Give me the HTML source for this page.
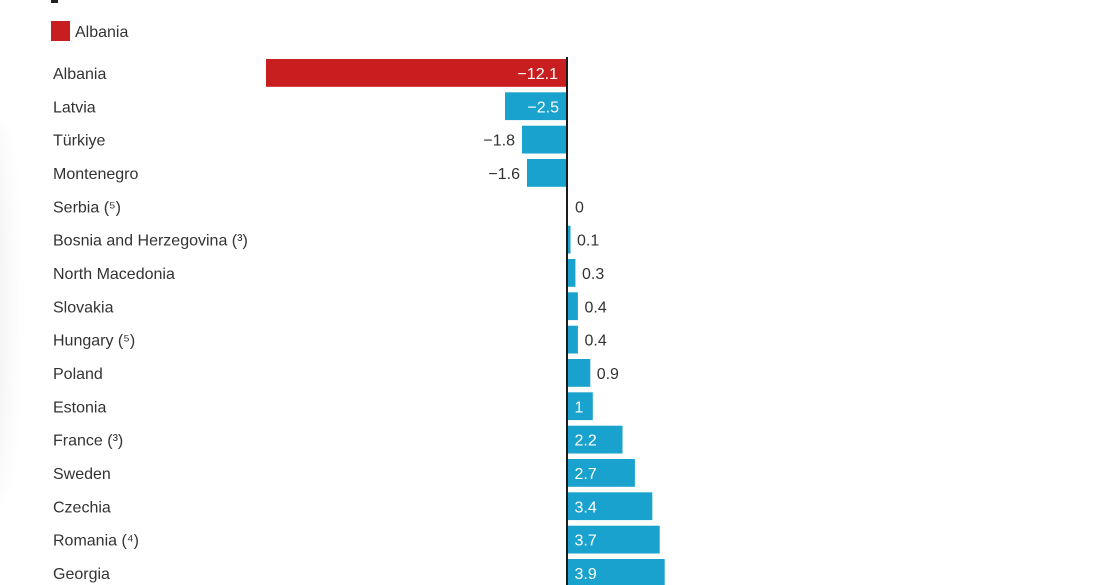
<!DOCTYPE html>
<html>
<head>
<meta charset="utf-8">
<style>
html,body{margin:0;padding:0;background:#fff;}
body{width:1118px;height:585px;overflow:hidden;position:relative;}
svg{position:absolute;left:0;top:0;}
text{font-family:"Liberation Sans",Arial,sans-serif;font-size:16px;}
.lbl{fill:#333;}
.vin{fill:#fff;}
.vout{fill:#333;}
</style>
</head>
<body>
<svg width="1118" height="585" viewBox="0 0 1118 585" xmlns="http://www.w3.org/2000/svg">
  <defs>
    <filter id="blur" x="-50%" y="-50%" width="200%" height="200%"><feGaussianBlur stdDeviation="10"/></filter>
  </defs>
  <ellipse cx="-8" cy="310" rx="18" ry="190" fill="#000" opacity="0.045" filter="url(#blur)"/>
  <rect x="51" y="0" width="7" height="3" fill="#222"/>
  <!-- legend -->
  <rect x="51" y="21" width="19" height="20" fill="#c91e1f"/>
  <text x="75" y="37" class="lbl">Albania</text>

  <text x="53" y="79" class="lbl">Albania</text>
  <rect x="266" y="59" width="300" height="27.8" fill="#c91e1f"/>
  <text x="558" y="79" class="vin" text-anchor="end">−12.1</text>

  <text x="53" y="112.3" class="lbl">Latvia</text>
  <rect x="505" y="92.3" width="61" height="27.8" fill="#19a2ce"/>
  <text x="559" y="112.3" class="vin" text-anchor="end">−2.5</text>

  <text x="53" y="145.7" class="lbl">Türkiye</text>
  <rect x="522" y="125.7" width="44" height="27.8" fill="#19a2ce"/>
  <text x="515" y="145.7" class="vout" text-anchor="end">−1.8</text>

  <text x="53" y="179" class="lbl">Montenegro</text>
  <rect x="527" y="159" width="39" height="27.8" fill="#19a2ce"/>
  <text x="520" y="179" class="vout" text-anchor="end">−1.6</text>

  <text x="53" y="212.3" class="lbl">Serbia (⁵)</text>
  <text x="575" y="212.3" class="vout">0</text>

  <text x="53" y="245.7" class="lbl">Bosnia and Herzegovina (³)</text>
  <rect x="568" y="225.7" width="2.5" height="27.8" fill="#19a2ce"/>
  <text x="577" y="245.7" class="vout">0.1</text>

  <text x="53" y="279" class="lbl">North Macedonia</text>
  <rect x="568" y="259" width="7.4" height="27.8" fill="#19a2ce"/>
  <text x="582" y="279" class="vout">0.3</text>

  <text x="53" y="312.3" class="lbl">Slovakia</text>
  <rect x="568" y="292.3" width="9.9" height="27.8" fill="#19a2ce"/>
  <text x="584.5" y="312.3" class="vout">0.4</text>

  <text x="53" y="345.7" class="lbl">Hungary (⁵)</text>
  <rect x="568" y="325.7" width="9.9" height="27.8" fill="#19a2ce"/>
  <text x="584.5" y="345.7" class="vout">0.4</text>

  <text x="53" y="379" class="lbl">Poland</text>
  <rect x="568" y="359" width="22.3" height="27.8" fill="#19a2ce"/>
  <text x="596.7" y="379" class="vout">0.9</text>

  <text x="53" y="412.3" class="lbl">Estonia</text>
  <rect x="568" y="392.3" width="24.8" height="27.8" fill="#19a2ce"/>
  <text x="574.5" y="412.3" class="vin">1</text>

  <text x="53" y="445.7" class="lbl">France (³)</text>
  <rect x="568" y="425.7" width="54.5" height="27.8" fill="#19a2ce"/>
  <text x="574.5" y="445.7" class="vin">2.2</text>

  <text x="53" y="479" class="lbl">Sweden</text>
  <rect x="568" y="459" width="66.9" height="27.8" fill="#19a2ce"/>
  <text x="574.5" y="479" class="vin">2.7</text>

  <text x="53" y="512.3" class="lbl">Czechia</text>
  <rect x="568" y="492.3" width="84.3" height="27.8" fill="#19a2ce"/>
  <text x="574.5" y="512.3" class="vin">3.4</text>

  <text x="53" y="545.7" class="lbl">Romania (⁴)</text>
  <rect x="568" y="525.7" width="91.7" height="27.8" fill="#19a2ce"/>
  <text x="574.5" y="545.7" class="vin">3.7</text>

  <text x="53" y="579" class="lbl">Georgia</text>
  <rect x="568" y="559" width="96.7" height="27.8" fill="#19a2ce"/>
  <text x="574.5" y="579" class="vin">3.9</text>

  <rect x="566" y="57" width="2" height="528" fill="#1a1a1a"/>
</svg>
</body>
</html>
